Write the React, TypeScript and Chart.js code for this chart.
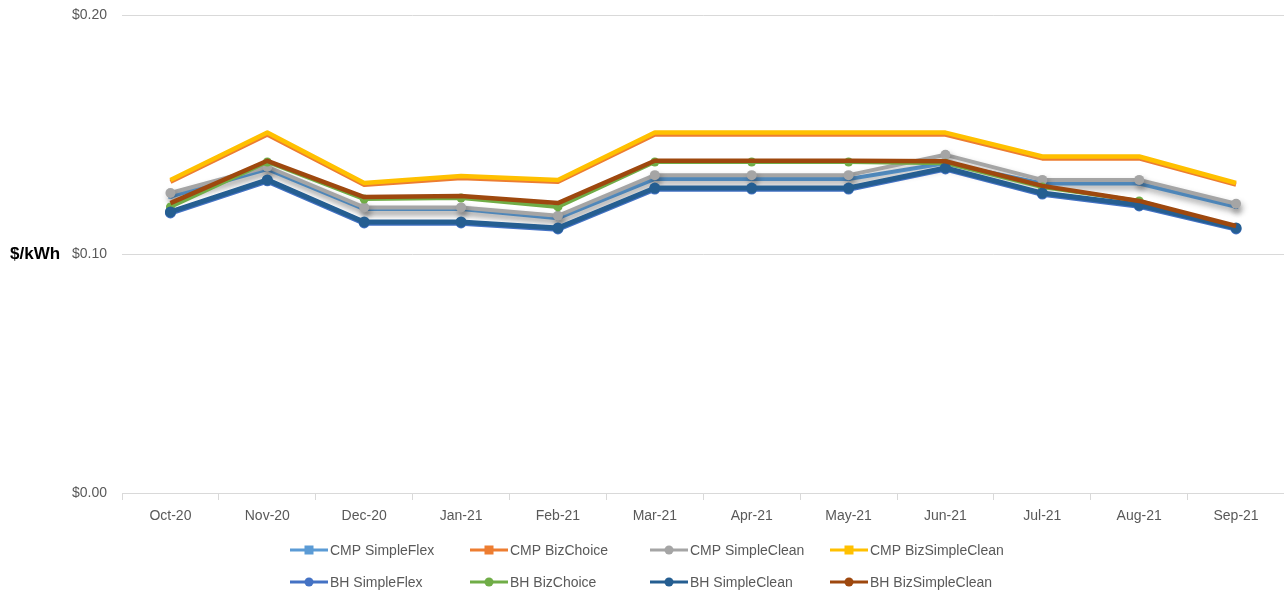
import React, { useEffect, useRef } from 'react';
import { Chart, registerables } from 'chart.js';
Chart.register(...registerables);

const months = ['Oct-20', 'Nov-20', 'Dec-20', 'Jan-21', 'Feb-21', 'Mar-21', 'Apr-21', 'May-21', 'Jun-21', 'Jul-21', 'Aug-21', 'Sep-21'];

const cmpSimpleFlex = [0.124, 0.1355, 0.1188, 0.1188, 0.115, 0.1314, 0.1314, 0.1314, 0.138, 0.1295, 0.1295, 0.1197];
const cmpBizChoice = [0.1302, 0.15, 0.129, 0.1318, 0.1302, 0.15, 0.15, 0.15, 0.15, 0.14, 0.14, 0.129];
const cmpSimpleClean = [0.1255, 0.1365, 0.1195, 0.1195, 0.116, 0.133, 0.133, 0.133, 0.1415, 0.131, 0.131, 0.121];
const cmpBizSimpleClean = [0.131, 0.1508, 0.1297, 0.1326, 0.131, 0.1508, 0.1508, 0.1508, 0.1508, 0.1408, 0.1408, 0.1297];
const bhSimpleFlex = [0.1172, 0.1306, 0.113, 0.113, 0.1105, 0.1272, 0.1272, 0.1272, 0.1356, 0.1251, 0.1201, 0.1105];
const bhBizChoice = [0.1197, 0.1385, 0.123, 0.1234, 0.1197, 0.1385, 0.1385, 0.1385, 0.138, 0.128, 0.1222, 0.111];
const bhSimpleClean = [0.1176, 0.131, 0.1134, 0.1134, 0.1109, 0.1276, 0.1276, 0.1276, 0.136, 0.1255, 0.1205, 0.1109];
const bhBizSimpleClean = [0.1213, 0.139, 0.1238, 0.1243, 0.1213, 0.139, 0.139, 0.139, 0.1388, 0.1285, 0.1222, 0.1117];

const yTicks = [0, 0.1, 0.2];
const yTitle = '$/kWh';

const seriesNames = ['CMP SimpleFlex', 'CMP BizChoice', 'CMP SimpleClean', 'CMP BizSimpleClean', 'BH SimpleFlex', 'BH BizChoice', 'BH SimpleClean', 'BH BizSimpleClean'];
const seriesData = [cmpSimpleFlex, cmpBizChoice, cmpSimpleClean, cmpBizSimpleClean, bhSimpleFlex, bhBizChoice, bhSimpleClean, bhBizSimpleClean];
const seriesColors = ['#5B9BD5', '#ED7D31', '#A5A5A5', '#FFC000', '#4472C4', '#70AD47', '#255E91', '#9E480E'];
const seriesMarkers = ['rect', 'rect', 'circle', 'rect', 'circle', 'circle', 'circle', 'circle'];
const seriesPointRadius = [3, 0, 5, 0, 5.5, 4.5, 5.5, 0];
const seriesLineWidth = [4, 4.5, 4, 4.5, 5.5, 4, 5, 4.5];
const seriesShadow = [true, false, true, false, false, false, false, false];

const FONT = '"Liberation Sans", Arial, sans-serif';

const customPlugin = {
  id: 'customDraw',
  beforeDatasetDraw(chart: any, args: any) {
    const ds = chart.data.datasets[args.index];
    const ctx = chart.ctx;
    ctx.save();
    if (ds.shadow) {
      ctx.shadowColor = 'rgba(0,0,0,0.3)';
      ctx.shadowBlur = 6;
      ctx.shadowOffsetX = 2;
      ctx.shadowOffsetY = 4;
    }
  },
  afterDatasetDraw(chart: any) {
    chart.ctx.restore();
  },
  afterDraw(chart: any) {
    const ctx = chart.ctx;
    const area = chart.chartArea;
    ctx.save();
    ctx.font = `bold 17px ${FONT}`;
    ctx.fillStyle = '#000000';
    ctx.textAlign = 'left';
    ctx.textBaseline = 'middle';
    ctx.fillText(yTitle, 10, (area.top + area.bottom) / 2);

    const colW = 180;
    const startX = 290;
    const rowY = [area.bottom + 57, area.bottom + 89];
    ctx.font = `14px ${FONT}`;
    seriesNames.forEach((name, i) => {
      const col = i % 4;
      const row = Math.floor(i / 4);
      const x = startX + col * colW;
      const y = rowY[row];
      const color = seriesColors[i];
      ctx.strokeStyle = color;
      ctx.lineWidth = 3;
      ctx.beginPath();
      ctx.moveTo(x, y);
      ctx.lineTo(x + 38, y);
      ctx.stroke();
      ctx.fillStyle = color;
      if (seriesMarkers[i] === 'rect') {
        ctx.fillRect(x + 19 - 4.5, y - 4.5, 9, 9);
      } else {
        ctx.beginPath();
        ctx.arc(x + 19, y, 4.5, 0, Math.PI * 2);
        ctx.fill();
      }
      ctx.fillStyle = '#595959';
      ctx.textAlign = 'left';
      ctx.textBaseline = 'middle';
      ctx.fillText(name, x + 40, y + 1);
    });
    ctx.restore();
  },
};

export default function App() {
  const ref = useRef<HTMLCanvasElement | null>(null);

  useEffect(() => {
    if (!ref.current) return;
    const n = seriesNames.length;
    const chart = new Chart(ref.current, {
      type: 'line',
      data: {
        labels: months,
        datasets: seriesNames.map((name, i) => ({
          label: name,
          data: seriesData[i],
          borderColor: seriesColors[i],
          backgroundColor: seriesColors[i],
          pointBackgroundColor: seriesColors[i],
          pointBorderColor: seriesColors[i],
          pointStyle: seriesMarkers[i] as any,
          pointRadius: seriesPointRadius[i],
          pointBorderWidth: 0,
          borderWidth: seriesLineWidth[i],
          borderJoinStyle: 'round' as const,
          tension: 0,
          fill: false,
          order: n - i,
          shadow: seriesShadow[i],
        })) as any,
      },
      options: {
        responsive: false,
        animation: false,
        devicePixelRatio: 1,
        layout: { padding: { top: 15, right: 0, left: 0, bottom: 0 } },
        plugins: {
          legend: { display: false },
          tooltip: { enabled: false },
        },
        scales: {
          x: {
            offset: true,
            grid: {
              offset: true,
              drawOnChartArea: false,
              drawTicks: true,
              tickLength: 7,
              color: '#D9D9D9',
            },
            border: { display: true, color: '#D9D9D9', width: 1 },
            ticks: {
              color: '#595959',
              font: { family: FONT, size: 14 },
              padding: 8,
              maxRotation: 0,
              autoSkip: false,
            },
            afterFit: (s: any) => {
              s.height = 100;
              s.paddingLeft = 0;
              s.paddingRight = 0;
            },
          },
          y: {
            min: 0,
            max: 0.2,
            afterBuildTicks: (s: any) => {
              s.ticks = yTicks.map((v) => ({ value: v }));
            },
            grid: { color: '#D9D9D9', drawTicks: false, lineWidth: 1 },
            border: { display: false },
            ticks: {
              color: '#595959',
              font: { family: FONT, size: 14 },
              padding: 15,
              callback: (v: any) => '$' + Number(v).toFixed(2),
            },
            afterFit: (s: any) => {
              s.width = 122;
              s.paddingTop = 0;
              s.paddingBottom = 0;
            },
          },
        },
      },
      plugins: [customPlugin],
    });
    return () => chart.destroy();
  }, []);

  return (
    <div style={{ position: 'fixed', left: 0, top: 0, width: 1284, height: 593, background: '#ffffff', overflow: 'hidden' }}>
      <canvas ref={ref} width={1290} height={593} style={{ display: 'block' }} />
    </div>
  );
}
